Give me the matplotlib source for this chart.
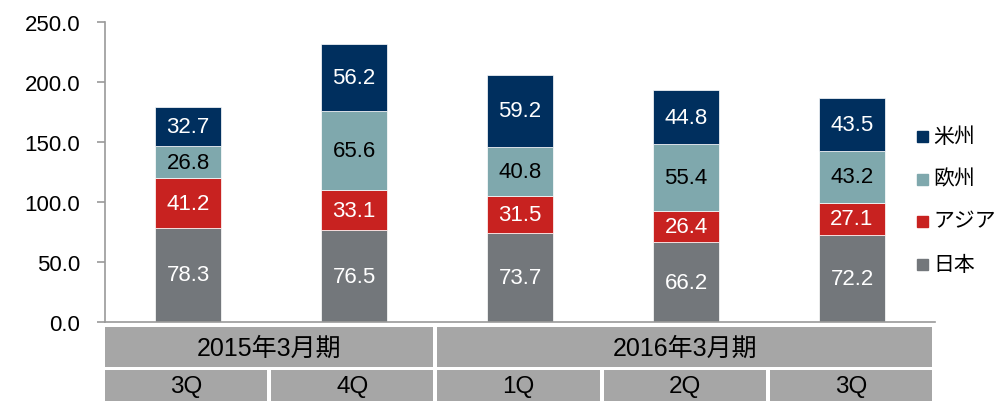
import matplotlib
matplotlib.use("Agg")
import matplotlib.pyplot as plt
from matplotlib.patches import Rectangle
import numpy as np

plt.rcParams['font.family'] = ['Liberation Sans', 'Noto Sans CJK JP', 'DejaVu Sans']

quarters = ["3Q", "4Q", "1Q", "2Q", "3Q"]
periods = ["2015年3月期", "2016年3月期"]
period_spans = [2, 3]
series_names = ["日本", "アジア", "欧州", "米州"]
japan = [78.3, 76.5, 73.7, 66.2, 72.2]
asia = [41.2, 33.1, 31.5, 26.4, 27.1]
europe = [26.8, 65.6, 40.8, 55.4, 43.2]
americas = [32.7, 56.2, 59.2, 44.8, 43.5]
yticks = [0, 50, 100, 150, 200, 250]

colors = ["#73777B", "#C82220", "#7FA8AD", "#002F5E"]
label_colors = ["white", "white", "black", "white"]
series = [japan, asia, europe, americas]

W, H = 998, 402
fig = plt.figure(figsize=(W / 100, H / 100), dpi=100)
left, right = 105 / W, 935 / W
y0, y250 = 323, 22.5
ax = fig.add_axes([left, (H - y0) / H, right - left, (y0 - y250) / H])

x = np.arange(len(quarters))
bottom = np.zeros(len(quarters))
for vals, c, lc in zip(series, colors, label_colors):
    bars = ax.bar(x, vals, width=0.4, bottom=bottom, color=c,
                  edgecolor="white", linewidth=0.5)
    ax.bar_label(bars, labels=[f"{v:.1f}" for v in vals], label_type="center",
                 color=lc, fontsize=16)
    bottom += np.array(vals)

ax.set_xlim(-0.5, len(quarters) - 0.5)
ax.set_ylim(0, 250)
ax.set_yticks(yticks)
ax.set_yticklabels([f"{v:.1f}" for v in yticks], fontsize=16)
ax.set_xticks([])
for s in ["top", "right"]:
    ax.spines[s].set_visible(False)
for s in ["left", "bottom"]:
    ax.spines[s].set_color("#9A9A9A")
    ax.spines[s].set_linewidth(1.2)
ax.tick_params(axis="y", length=6, color="#9A9A9A", width=1.2, pad=12)

# table below axis
tab = fig.add_axes([left - 2 / W, 0, (934 - 103) / W, (H - 328) / H])
tab.set_xlim(-0.5, len(quarters) - 0.5)
tab.set_ylim(0, (H - 328))
tab.axis("off")
gap = 0.012
gray = "#A6A6A6"
row1_bot, row1_top = H - 368, H - 328
row2_bot, row2_top = -5, H - 371
start = -0.5
for name, span in zip(periods, period_spans):
    tab.add_patch(Rectangle((start + gap, row1_bot), span - 2 * gap, row1_top - row1_bot,
                            color=gray, clip_on=False, linewidth=0))
    tab.text(start + span / 2, (row1_bot + row1_top) / 2 - 1, name, ha="center", va="center",
             fontsize=18)
    start += span
for i, q in enumerate(quarters):
    tab.add_patch(Rectangle((i - 0.5 + gap, row2_bot), 1 - 2 * gap, row2_top - row2_bot,
                            color=gray, clip_on=False, linewidth=0))
    tab.text(i, (row2_top + 0) / 2 - 1, q, ha="center", va="center", fontsize=17.5)

# legend
leg_y = [265, 222, 180, 137]
for name, c, yy in zip(series_names, colors, leg_y):
    fig.patches.append(Rectangle((917 / W, (H - yy - 6) / H), 11 / W, 11 / H,
                                 color=c, transform=fig.transFigure, figure=fig))
    fig.text(933 / W, (H - yy) / H, name, ha="left", va="center", fontsize=15)

fig.savefig("out.png", dpi=100)
